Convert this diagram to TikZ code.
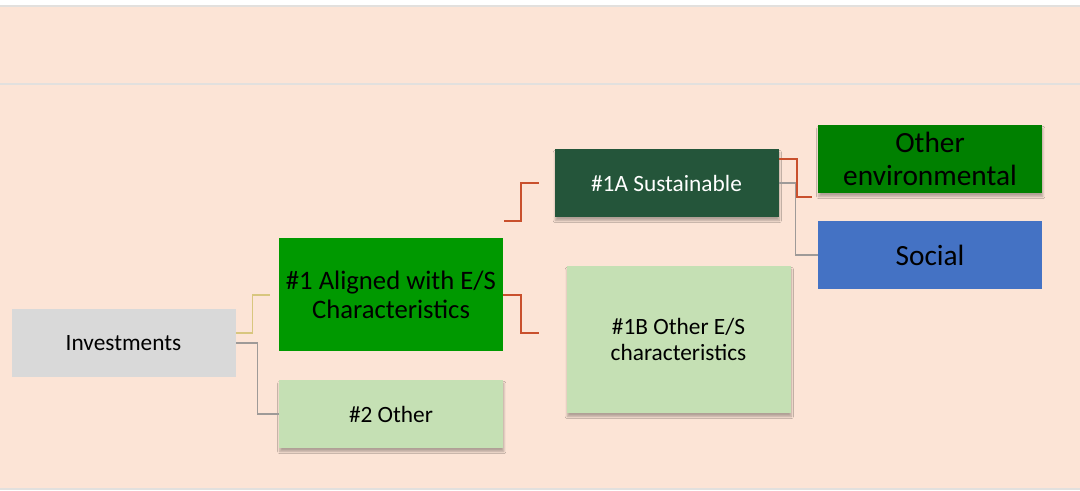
\documentclass[tikz,border=0pt]{standalone}
\usepackage{fontspec}
\setmainfont{Carlito}
\usetikzlibrary{shadows.blur}
\definecolor{peach}{HTML}{FCE4D6}
\definecolor{rulegray}{HTML}{E2E0DE}
\definecolor{lightgray}{HTML}{D9D9D9}
\definecolor{brightgreen}{HTML}{009900}
\definecolor{palegreen}{HTML}{C5E0B4}
\definecolor{darkgreen}{HTML}{24553A}
\definecolor{envgreen}{HTML}{008000}
\definecolor{socblue}{HTML}{4472C4}
\definecolor{linered}{HTML}{C9502D}
\definecolor{lineyellow}{HTML}{D8C67E}
\definecolor{linegray}{HTML}{9E9A98}
\tikzset{
    box/.style={rectangle, inner sep=0pt, align=center, minimum width=168pt,
      minimum height=51pt, font=\fontsize{17.5}{20}\selectfont},
    shade/.style={blur shadow={shadow xshift=0.6pt, shadow yshift=-2.6pt,
      shadow blur radius=1.6pt, shadow blur steps=6, shadow opacity=30}},
    grey/.style={box, fill=lightgray},
    bright/.style={box, fill=brightgreen, minimum height=84.75pt,
      font=\fontsize{20}{22}\selectfont},
    pale/.style={box, shade, fill=palegreen},
    dark/.style={box, shade, fill=darkgreen, text=white},
    envbox/.style={box, shade, fill=envgreen, font=\fontsize{22}{25}\selectfont},
    socbox/.style={box, fill=socblue, font=\fontsize{22}{25}\selectfont},
    redline/.style={draw=linered, line width=1.5pt},
    yelline/.style={draw=lineyellow, line width=1pt},
    greyline/.style={draw=linegray, line width=1pt}
}
\begin{document}
\begin{tikzpicture}
  [
    x = 0.75pt,
    y = -0.75pt,
  ]
  \useasboundingbox (0,0) rectangle (1080,490);
  % background and bands
  \fill[white] (0,0) rectangle (1080,490);
  \fill[peach] (0,6) rectangle (1080,488);
  \draw[rulegray, line width=1.5pt] (0,6) -- (1080,6);
  \draw[rulegray, line width=1.5pt] (0,84) -- (1080,84);
  \draw[rulegray, line width=1.5pt] (0,489) -- (1080,489);

  % boxes
  \node [grey]   (inv) at (123.5,343)   {Investments};
  \node [bright] (al)  at (391,294.5)   {\#1 Aligned with E/S\\Characteristics};
  \node [pale]   (oth) at (391,414)     {\#2 Other};
  \node [dark]   (sus) at (666.5,183)   {\#1A Sustainable};
  \node [pale, minimum height=110.25pt] (esb) at (678.5,339.5)
    {\#1B Other E/S\\characteristics};
  \node [envbox] (env) at (930,159)     {Other\\environmental};
  \node [socbox] (soc) at (930,255)     {Social};

  % loose ends
  \coordinate (alin)  at (270,295);
  \coordinate (susa)  at (504,221);
  \coordinate (susin) at (539,183);
  \coordinate (esbin) at (539,333);
  \coordinate (envin) at (812,197);

  % connectors
  \draw [yelline]  ([yshift=7.5pt]inv.east) -- ++(17,0) |- (alin);
  \draw [greyline] (inv.east) -- ++(22,0) |- (oth.west);
  \draw [redline]  (susa) -- ++(17,0) |- (susin);
  \draw [redline]  (al.east) -- ++(18,0) |- (esbin);
  \draw [redline]  ([yshift=18pt]sus.east) -- ++(18,0) |- (envin);
  \draw [greyline] (sus.east) -- ++(17,0) |- (soc.west);
\end{tikzpicture}
\end{document}
